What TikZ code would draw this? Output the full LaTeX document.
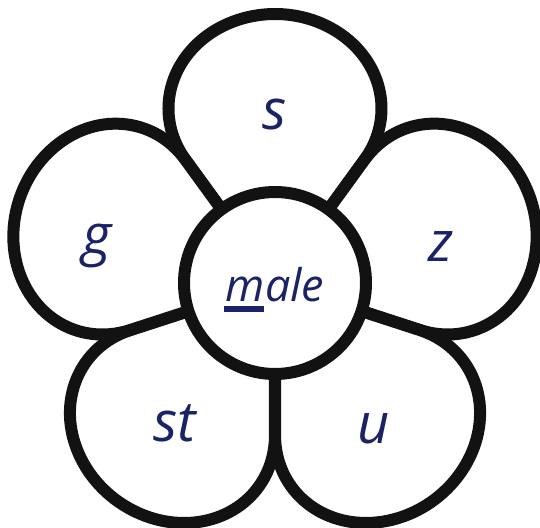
\documentclass[tikz,border=0pt]{standalone}
\usepackage{fontspec}
\setmainfont{Open Sans}
\definecolor{ink}{HTML}{1B2266}
\definecolor{edge}{HTML}{121212}
\begin{document}
\begin{tikzpicture}[x=1pt,y=1pt,
  petal/.style={draw=edge, fill=white, line width=12pt, line join=round},
  letter/.style={text=ink, font=\fontsize{56}{60}\selectfont\itshape, anchor=base, inner sep=0pt},
  hub/.style={circle, draw=edge, fill=white, line width=12pt, minimum size=182pt, inner sep=0pt}]
\fill[white] (0,0) rectangle (540,527);
\useasboundingbox (0,0) rectangle (540,527);
\clip (0,0) rectangle (540,527);
\coordinate (C) at (275,244);
\foreach \a in {90,18,-54,-126,162}{
  \draw[petal, shift={(C)}, rotate=\a-90] (0,0) -- (89.5,123.3)
    arc[start angle=-32.8, end angle=212.8, x radius=106.5, y radius=94.5] -- cycle;
}
\node[hub] (hub) at (C) {};
\node[letter] (s) at (275,397) {s};
\node[letter] (z) at (441,265) {z};
\node[letter] (g) at (97,272) {g};
\node[letter] (st) at (175,85) {st};
\node[letter] (u) at (374,84) {u};
\node[letter, font=\fontsize{45}{50}\selectfont\itshape] (word) at (275,225)
  {\rlap{\kern-2pt\rule[-10pt]{40pt}{6pt}}male};
\end{tikzpicture}
\end{document}
